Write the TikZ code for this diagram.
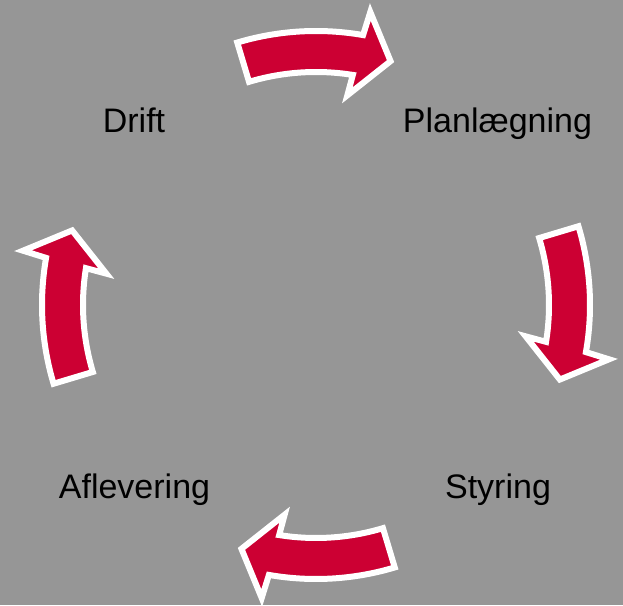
\documentclass[tikz,border=0pt]{standalone}
\usepackage{fontspec}
\setmainfont{Liberation Sans}
\definecolor{bggray}{RGB}{150,150,150}
\definecolor{arrowred}{RGB}{204,0,51}
\tikzset{
    cyclearrow/.style={fill=arrowred, draw=white, line width=6pt, line join=miter},
    steplabel/.style={font=\fontsize{34}{41}\selectfont, text=black, anchor=base}
}
\begin{document}
\begin{tikzpicture}[x=1pt,y=1pt]
    % Background
    \fill[bggray] (0,0) rectangle (623,605);
    \useasboundingbox (0,0) rectangle (623,605);

    % Arrows round the cycle (clockwise)
    \begin{scope}[shift={(316,300)}]
        \foreach \a in {90,0,-90,180} {
            \draw[cyclearrow] (\a+16.7:274pt)
                arc[start angle=\a+16.7, end angle=\a-9.9, radius=274pt]
                -- (\a-10.5:298pt) -- (\a-17:255pt) -- (\a-8.5:212pt) -- (\a-9.1:233pt)
                arc[start angle=\a-9.1, end angle=\a+16.7, radius=233pt] -- cycle;
        }
    \end{scope}

    % Labels
    \node[steplabel] (drift) at (134,472) {Drift};
    \node[steplabel] (planlaegning) at (497.5,472) {Planlægning};
    \node[steplabel] (styring) at (498,107) {Styring};
    \node[steplabel] (aflevering) at (134.5,107) {Aflevering};
\end{tikzpicture}
\end{document}
